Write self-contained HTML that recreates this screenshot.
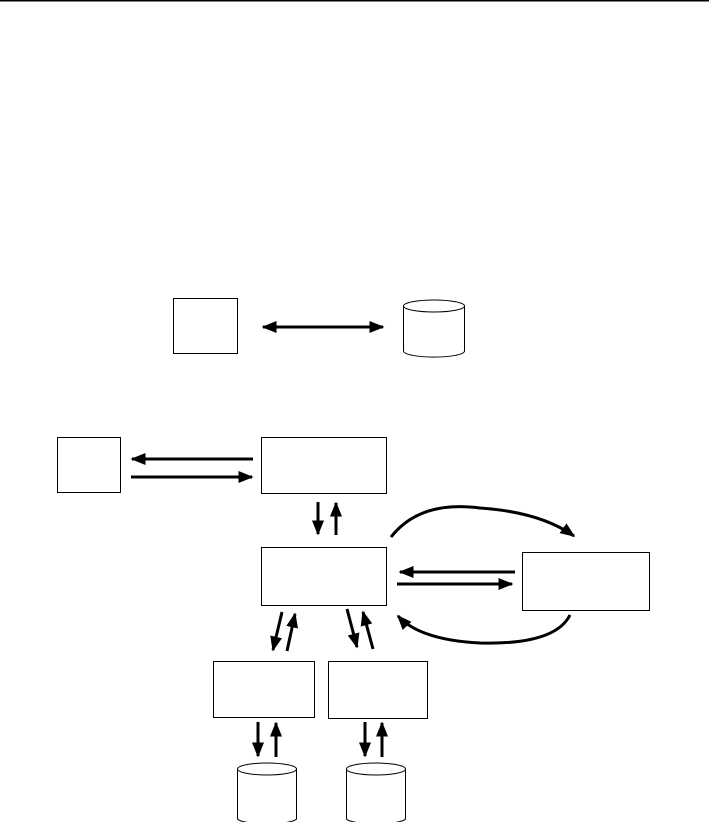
<!DOCTYPE html>
<html><head><style>html,body{margin:0;padding:0;background:#fff;width:709px;height:822px;overflow:hidden}</style></head>
<body>
<svg width="709" height="822" xmlns="http://www.w3.org/2000/svg">
<defs>
<marker id="a" markerWidth="5" markerHeight="4" refX="4.5" refY="2" orient="auto" markerUnits="strokeWidth"><path d="M0,0 L5,2 L0,4 z" fill="#000"/></marker>
<marker id="b" markerWidth="5" markerHeight="4" refX="0.5" refY="2" orient="auto" markerUnits="strokeWidth"><path d="M5,0 L0,2 L5,4 z" fill="#000"/></marker>
</defs>
<line x1="0" y1="0.5" x2="709" y2="0.5" stroke="#000" stroke-width="2"/>
<g fill="none" stroke="#000" stroke-width="1">
<rect x="173.5" y="298.5" width="64" height="55"/>
<path d="M403.5,306 v45 a30,6 0 0 0 61,0 v-45"/>
<ellipse cx="434" cy="306" rx="30.5" ry="6" fill="#fff"/>
<rect x="57.5" y="437.5" width="63" height="55"/>
<rect x="261.5" y="437.5" width="125" height="56"/>
<rect x="261.5" y="547.5" width="125" height="58"/>
<rect x="522.5" y="552.5" width="127" height="58"/>
<rect x="213.5" y="661.5" width="101" height="56"/>
<rect x="328.5" y="661.5" width="99" height="57"/>
<path d="M237.5,769 v50 a30,6 0 0 0 59,0 v-50"/>
<ellipse cx="267" cy="769" rx="29.5" ry="6" fill="#fff"/>
<path d="M346.5,769 v50 a30,6 0 0 0 59,0 v-50"/>
<ellipse cx="376" cy="769" rx="29.5" ry="6" fill="#fff"/>
</g>
<g fill="none" stroke="#000" stroke-width="3">
<line x1="263" y1="327" x2="383" y2="327" marker-end="url(#a)" marker-start="url(#b)"/>
<line x1="253" y1="459" x2="132" y2="459" marker-end="url(#a)"/>
<line x1="131" y1="477" x2="252" y2="477" marker-end="url(#a)"/>
<line x1="318" y1="502" x2="318" y2="534" marker-end="url(#a)"/>
<line x1="336" y1="535" x2="336" y2="503" marker-end="url(#a)"/>
<line x1="515" y1="572" x2="400" y2="572" marker-end="url(#a)"/>
<line x1="397" y1="584" x2="512" y2="584" marker-end="url(#a)"/>
<path d="M391,537 Q420,500 480,508 Q540,512 574,536" marker-end="url(#a)"/>
<path d="M570,615 Q555,645 480,643 Q420,640 398,616" marker-end="url(#a)"/>
<line x1="282" y1="612" x2="273" y2="650" marker-end="url(#a)"/>
<line x1="287" y1="651" x2="295" y2="614" marker-end="url(#a)"/>
<line x1="347" y1="609" x2="357" y2="647" marker-end="url(#a)"/>
<line x1="373" y1="649" x2="363" y2="612" marker-end="url(#a)"/>
<line x1="258" y1="722" x2="258" y2="756" marker-end="url(#a)"/>
<line x1="276" y1="757" x2="276" y2="723" marker-end="url(#a)"/>
<line x1="365" y1="722" x2="365" y2="756" marker-end="url(#a)"/>
<line x1="382" y1="757" x2="382" y2="723" marker-end="url(#a)"/>
</g>
</svg>
</body></html>
